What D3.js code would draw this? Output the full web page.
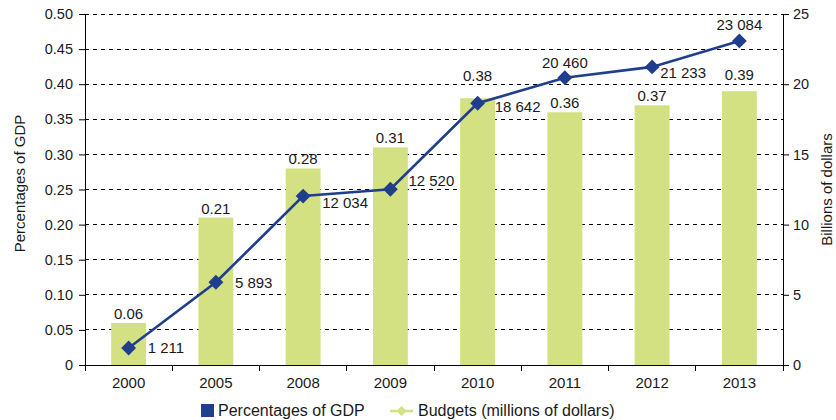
<!DOCTYPE html>
<html>
<head>
<meta charset="utf-8">
<script src="https://cdn.jsdelivr.net/npm/d3@7/dist/d3.min.js"></script>
<style>
  html, body { margin: 0; padding: 0; background: #fff; }
  svg { display: block; font-family: "Liberation Sans", Arial, sans-serif; }
</style>
</head>
<body>
<svg id="chart" width="836" height="420"></svg>
<script>
// Data
const years = ["2000", "2005", "2008", "2009", "2010", "2011", "2012", "2013"];
const gdpShare = [0.06, 0.21, 0.28, 0.31, 0.38, 0.36, 0.37, 0.39];          // percentages of GDP (bars)
const budgets = [1211, 5893, 12034, 12520, 18642, 20460, 21233, 23084];     // millions of dollars (line)
const leftTicks = [0, 0.05, 0.10, 0.15, 0.20, 0.25, 0.30, 0.35, 0.40, 0.45, 0.50];
const rightTicks = [0, 5, 10, 15, 20, 25];

// Label placement tweaks (pixels)
const barLabelLift = [4, 4, 4, 4, 17, 4, 4, 11];
const lineLabelPos = [
  { dx: 19, dy: 0, anchor: "start" },
  { dx: 19, dy: 0, anchor: "start" },
  { dx: 19, dy: 7, anchor: "start" },
  { dx: 18, dy: -8, anchor: "start" },
  { dx: 17, dy: 3, anchor: "start" },
  { dx: 0, dy: -15, anchor: "middle" },
  { dx: 8, dy: 6, anchor: "start" },
  { dx: 0, dy: -16, anchor: "middle" }
];

const barColor = "#d3e182";
const lineColor = "#1f3e8b";

const svg = d3.select("#chart");
const m = { left: 85, right: 53, top: 14, bottom: 55 };
const W = 836, H = 420;
const x0 = m.left, x1 = W - m.right, y0 = H - m.bottom, y1 = m.top;

const x = d3.scaleBand().domain(years).range([x0, x1]).padding(0);
const yL = d3.scaleLinear().domain([0, 0.5]).range([y0, y1]);
const yR = d3.scaleLinear().domain([0, 25]).range([y0, y1]);

// Dashed gridlines
svg.append("g")
  .selectAll("line")
  .data(leftTicks.filter(d => d > 0))
  .join("line")
  .attr("x1", x0).attr("x2", x1)
  .attr("y1", d => yL(d)).attr("y2", d => yL(d))
  .attr("stroke", "#000").attr("stroke-width", 1)
  .attr("stroke-dasharray", "4,4")
  .attr("shape-rendering", "crispEdges");

// Bars
const bw = x.bandwidth() * 0.4;
svg.append("g")
  .selectAll("rect")
  .data(gdpShare)
  .join("rect")
  .attr("x", (d, i) => x(years[i]) + x.bandwidth() / 2 - bw / 2)
  .attr("width", bw)
  .attr("y", d => yL(d))
  .attr("height", d => y0 - yL(d))
  .attr("fill", barColor);

// Bar labels
svg.append("g")
  .selectAll("text")
  .data(gdpShare)
  .join("text")
  .attr("x", (d, i) => x(years[i]) + x.bandwidth() / 2)
  .attr("y", (d, i) => yL(d) - barLabelLift[i])
  .attr("text-anchor", "middle")
  .attr("font-size", 15)
  .attr("fill", "#1a1a1a")
  .text(d => d.toFixed(2));

// Axes
const fmtL = d => d === 0 ? "0" : d.toFixed(2);
const gL = svg.append("g").attr("transform", `translate(${x0},0)`)
  .call(d3.axisLeft(yL).tickValues(leftTicks).tickFormat(fmtL).tickSize(6).tickPadding(6));
const gR = svg.append("g").attr("transform", `translate(${x1},0)`)
  .call(d3.axisRight(yR).tickValues(rightTicks).tickSize(6).tickPadding(4));
const gX = svg.append("g").attr("transform", `translate(0,${y0})`)
  .call(d3.axisBottom(x).tickSize(0).tickPadding(12));

[gL, gR, gX].forEach(g => {
  g.select(".domain").attr("stroke", "#000").attr("stroke-width", 1);
  g.selectAll(".tick line").attr("stroke", "#000");
  g.selectAll("text").attr("fill", "#1a1a1a").attr("font-family", "Liberation Sans, Arial, sans-serif");
});
gL.selectAll("text").attr("font-size", 14.5);
gR.selectAll("text").attr("font-size", 14.5);
gX.selectAll("text").attr("font-size", 15);
gX.select(".domain").attr("d", `M${x0},0.5H${x1}`);

// Category separators on x axis
svg.append("g")
  .selectAll("line")
  .data(d3.range(years.length + 1))
  .join("line")
  .attr("x1", i => x0 + i * x.bandwidth())
  .attr("x2", i => x0 + i * x.bandwidth())
  .attr("y1", y0).attr("y2", y0 + 6)
  .attr("stroke", "#000")
  .attr("shape-rendering", "crispEdges");

// Budget line (billions on right axis)
const pts = budgets.map((v, i) => [x(years[i]) + x.bandwidth() / 2, yR(v / 1000)]);
svg.append("path")
  .datum(pts)
  .attr("d", d3.line())
  .attr("fill", "none")
  .attr("stroke", lineColor)
  .attr("stroke-width", 2.6);

svg.append("g")
  .selectAll("path")
  .data(pts)
  .join("path")
  .attr("transform", d => `translate(${d[0]},${d[1]}) rotate(45)`)
  .attr("d", d3.symbol().type(d3.symbolSquare).size(110))
  .attr("fill", lineColor);

// Line labels, thousands separated by a space
const fmtSpace = v => d3.format(",")(v).replace(/,/g, " ");
svg.append("g")
  .selectAll("text")
  .data(budgets)
  .join("text")
  .attr("x", (d, i) => pts[i][0] + lineLabelPos[i].dx)
  .attr("y", (d, i) => pts[i][1] + lineLabelPos[i].dy)
  .attr("dy", "0.35em")
  .attr("text-anchor", (d, i) => lineLabelPos[i].anchor)
  .attr("font-size", 15)
  .attr("fill", "#1a1a1a")
  .text(fmtSpace);

// Axis titles
svg.append("text")
  .attr("transform", `translate(25,${(y0 + y1) / 2 - 6}) rotate(-90)`)
  .attr("text-anchor", "middle")
  .attr("font-size", 15)
  .attr("fill", "#1a1a1a")
  .text("Percentages of GDP");
svg.append("text")
  .attr("transform", `translate(832,${(y0 + y1) / 2}) rotate(-90)`)
  .attr("text-anchor", "middle")
  .attr("font-size", 15)
  .attr("fill", "#1a1a1a")
  .text("Billions of dollars");

// Legend
const lg = svg.append("g");
lg.append("rect").attr("x", 201).attr("y", 404).attr("width", 13).attr("height", 13).attr("fill", lineColor);
lg.append("text").attr("x", 218).attr("y", 416).attr("font-size", 16).attr("fill", "#1a1a1a").text("Percentages of GDP");
lg.append("line").attr("x1", 390).attr("x2", 413).attr("y1", 411).attr("y2", 411)
  .attr("stroke", barColor).attr("stroke-width", 2.5);
lg.append("path").attr("transform", "translate(401.5,411) rotate(45)")
  .attr("d", d3.symbol().type(d3.symbolSquare).size(50)).attr("fill", barColor);
lg.append("text").attr("x", 418).attr("y", 416).attr("font-size", 16).attr("fill", "#1a1a1a").text("Budgets (millions of dollars)");
</script>
</body>
</html>
